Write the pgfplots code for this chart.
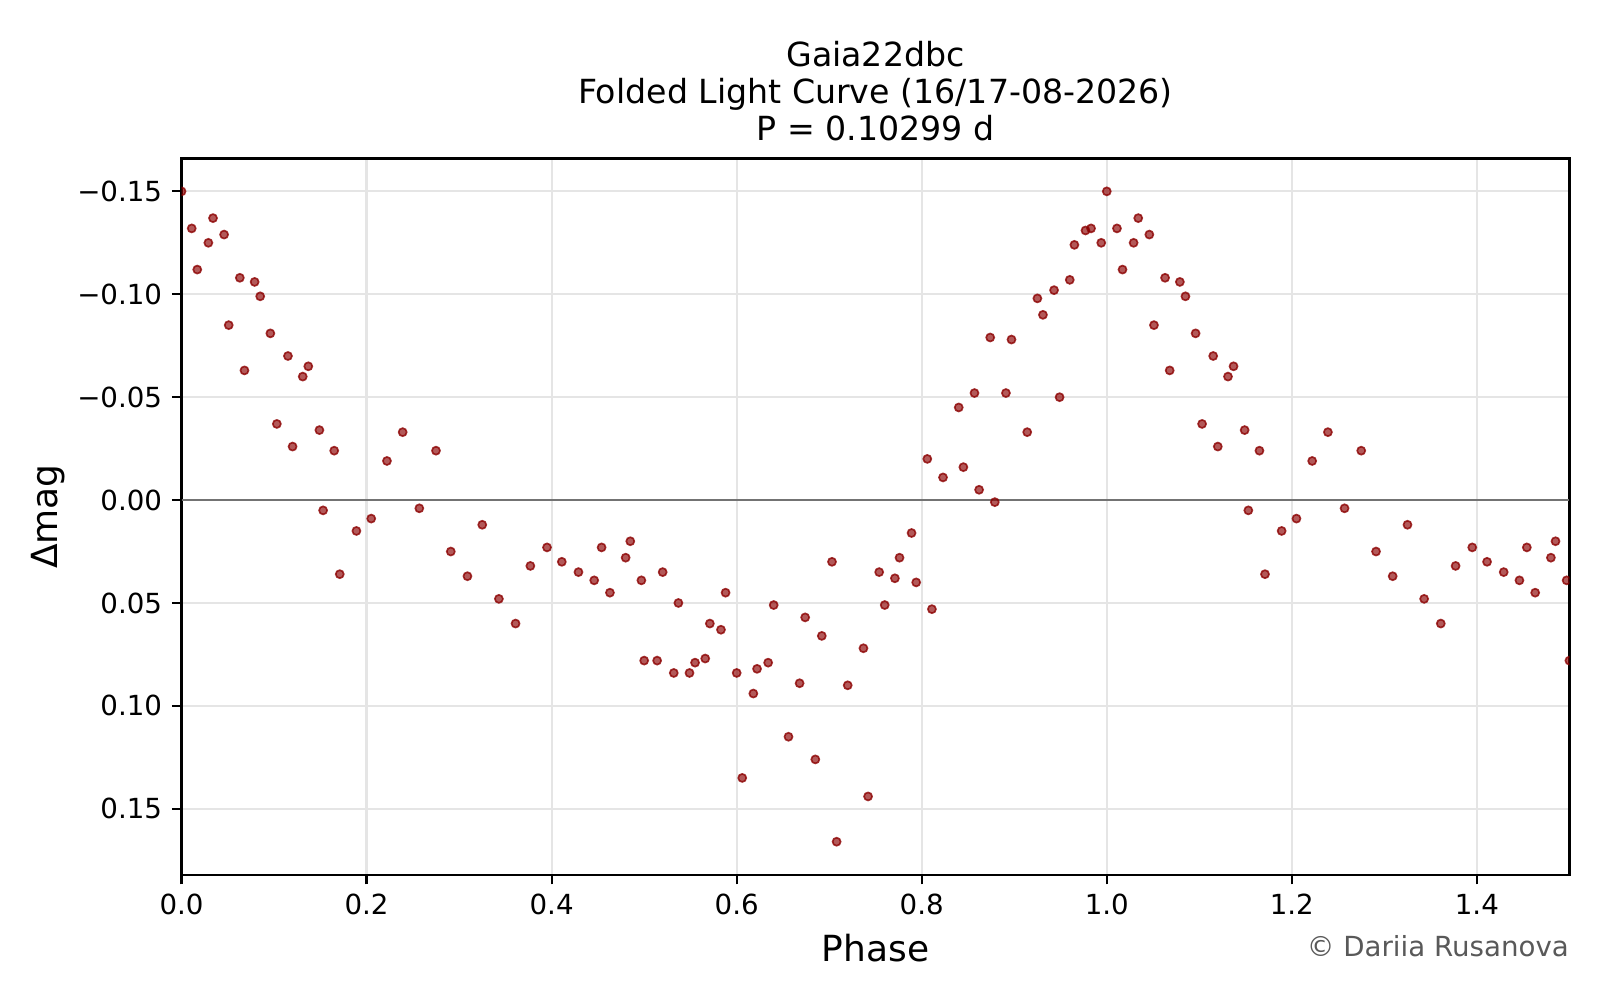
\documentclass[border=0pt]{standalone}
\usepackage{fontspec}
\setmainfont{DejaVu Sans}
\usepackage{pgfplots}
\usepackage{pgfplotstable}
\pgfplotsset{compat=1.18}
\definecolor{darkred}{HTML}{8B0000}
\pgfplotstableread{
p m
0.000 -0.150
0.011 -0.132
0.017 -0.112
0.029 -0.125
0.034 -0.137
0.046 -0.129
0.051 -0.085
0.063 -0.108
0.068 -0.063
0.079 -0.106
0.085 -0.099
0.096 -0.081
0.103 -0.037
0.115 -0.070
0.120 -0.026
0.131 -0.060
0.137 -0.065
0.149 -0.034
0.153 0.005
0.165 -0.024
0.171 0.036
0.189 0.015
0.205 0.009
0.222 -0.019
0.239 -0.033
0.257 0.004
0.275 -0.024
0.291 0.025
0.309 0.037
0.325 0.012
0.343 0.048
0.361 0.060
0.377 0.032
0.395 0.023
0.411 0.030
0.429 0.035
0.446 0.039
0.454 0.023
0.463 0.045
0.480 0.028
0.485 0.020
0.497 0.039
0.500 0.078
0.514 0.078
0.520 0.035
0.532 0.084
0.537 0.050
0.549 0.084
0.555 0.079
0.566 0.077
0.571 0.060
0.583 0.063
0.588 0.045
0.600 0.084
0.606 0.135
0.618 0.094
0.622 0.082
0.634 0.079
0.640 0.051
0.656 0.115
0.668 0.089
0.674 0.057
0.685 0.126
0.692 0.066
0.703 0.030
0.708 0.166
0.720 0.090
0.737 0.072
0.742 0.144
0.754 0.035
0.760 0.051
0.771 0.038
0.776 0.028
0.789 0.016
0.794 0.040
0.806 -0.020
0.811 0.053
0.823 -0.011
0.840 -0.045
0.845 -0.016
0.857 -0.052
0.862 -0.005
0.874 -0.079
0.879 0.001
0.891 -0.052
0.897 -0.078
0.914 -0.033
0.925 -0.098
0.931 -0.090
0.943 -0.102
0.949 -0.050
0.960 -0.107
0.965 -0.124
0.977 -0.131
0.983 -0.132
0.994 -0.125
}\lc
\begin{document}
\begin{tikzpicture}
\path[use as bounding box] (0,0) rectangle (578.16pt,361.35pt);
\begin{axis}[
  at={(316.35pt,174.7pt)}, anchor=center,
  scale only axis, width=501.5pt, height=258.8pt,
  xmin=0, xmax=1.5, ymin=-0.166, ymax=0.182, y dir=reverse,
  axis line style={black, line width=0.8pt},
  xtick={0,0.2,0.4,0.6,0.8,1.0,1.2,1.4},
  xticklabels={0.0,0.2,0.4,0.6,0.8,1.0,1.2,1.4},
  ytick={-0.15,-0.10,-0.05,0,0.05,0.10,0.15},
  yticklabels={−0.15,−0.10,−0.05,0.00,0.05,0.10,0.15},
  xtick pos=bottom, ytick pos=left,
  tick align=outside, major tick length=3.5pt,
  tick style={black, line width=0.8pt},
  ticklabel style={font=\fontsize{10}{12}\selectfont},
  grid=major,
  major grid style={color=black!10, line width=0.8pt},
  clip marker paths=true,
]
\draw[black!55, line width=1pt] (axis cs:0,0) -- (axis cs:1.5,0);
\addplot[only marks, mark=*, mark size=1.45pt,
  mark options={draw=darkred, fill=darkred, draw opacity=0.8, fill opacity=0.65, line width=0.6pt}]
  table[x=p, y=m] {\lc};
\addplot[only marks, mark=*, mark size=1.45pt,
  mark options={draw=darkred, fill=darkred, draw opacity=0.8, fill opacity=0.65, line width=0.6pt}]
  table[x expr=\thisrow{p}+1, y=m] {\lc};
\end{axis}
\node[anchor=base, font=\fontsize{12}{14.4}\selectfont] at (316.35pt,337.3pt) {Gaia22dbc};
\node[anchor=base, font=\fontsize{12}{14.4}\selectfont] at (316.35pt,323.9pt) {Folded Light Curve (16/17-08-2026)};
\node[anchor=base, font=\fontsize{12}{14.4}\selectfont] at (316.35pt,310.4pt) {P = 0.10299 d};
\node[anchor=base, font=\fontsize{13}{15.6}\selectfont] at (316.35pt,14.0pt) {Phase};
\node[anchor=base, rotate=90, font=\fontsize{13}{15.6}\selectfont] at (20.6pt,174.7pt) {Δmag};
\node[anchor=base east, text=black!65, font=\fontsize{10}{12}\selectfont, inner sep=0pt] at (567.1pt,15.8pt) {© Dariia Rusanova};
\end{tikzpicture}
\end{document}
